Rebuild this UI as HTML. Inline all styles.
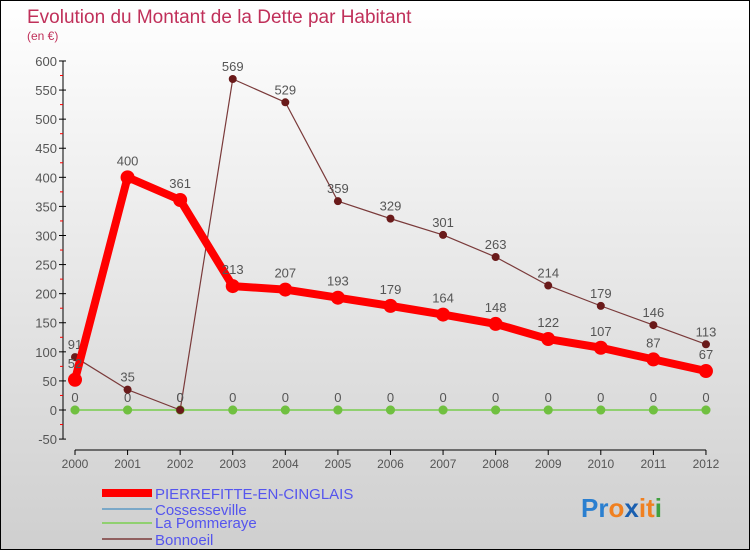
<!DOCTYPE html>
<html><head><meta charset="utf-8"><style>
body{margin:0}
#c{width:748px;height:548px;border:1px solid #000;background:linear-gradient(#fff,#cfcfcf);position:relative;overflow:hidden;font-family:"Liberation Sans",sans-serif}
</style></head><body>
<div id="c">
<svg id="s" width="748" height="548" xmlns="http://www.w3.org/2000/svg">
<text x="26" y="22" font-size="19" fill="#c0305a">Evolution du Montant de la Dette par Habitant</text>
<text x="26" y="39" font-size="12" fill="#c0305a">(en €)</text>
<g id="g"></g>
<g>
<rect x="101" y="488" width="50" height="8" fill="#f00"/>
<text x="154" y="498" font-size="15" fill="#5555ee">PIERREFITTE-EN-CINGLAIS</text>
<line x1="101" y1="508" x2="151" y2="508" stroke="#7aa8c8" stroke-width="2"/>
<text x="154" y="514" font-size="15" fill="#5555ee">Cossesseville</text>
<line x1="101" y1="522" x2="151" y2="522" stroke="#90d070" stroke-width="2"/>
<text x="154" y="527" font-size="15" fill="#5555ee">La Pommeraye</text>
<line x1="101" y1="538" x2="151" y2="538" stroke="#906060" stroke-width="2"/>
<text x="154" y="544" font-size="15" fill="#5555ee">Bonnoeil</text>
</g>
<text x="580" y="516" font-size="26" font-weight="bold"><tspan fill="#2a7fd0">Pr</tspan><tspan fill="#f08020">o</tspan><tspan fill="#1a5fb0">x</tspan><tspan fill="#f08020">it</tspan><tspan fill="#40a040">i</tspan></text>
</svg>
</div>
<script>
const years=[2000,2001,2002,2003,2004,2005,2006,2007,2008,2009,2010,2011,2012];
const pierrefitte=[52,400,361,213,207,193,179,164,148,122,107,87,67];
const cossesseville=[0,0,0,0,0,0,0,0,0,0,0,0,0];
const pommeraye=[0,0,0,0,0,0,0,0,0,0,0,0,0];
const bonnoeil=[91,35,0,569,529,359,329,301,263,214,179,146,113];
const yTicks=[-50,0,50,100,150,200,250,300,350,400,450,500,550,600];
const NS='http://www.w3.org/2000/svg';
const g=document.getElementById('g');
const X=i=>74+i*52.58;
const Y=v=>409-v*0.5817;
function el(t,a,txt){const e=document.createElementNS(NS,t);for(const k in a)e.setAttribute(k,a[k]);if(txt!==undefined)e.textContent=txt;g.appendChild(e);return e;}
let ax=el('line',{x1:62,y1:Y(600),x2:62,y2:Y(-50),stroke:'#000'});

yTicks.forEach(v=>{const t=el('line',{x1:58,y1:Y(v),x2:65,y2:Y(v),stroke:'#000'});

const m=el('line',{x1:59,y1:Y(v+25),x2:62,y2:Y(v+25),stroke:'#f00'});
if(v==600)m.remove();
const l=el('text',{x:56,y:Y(v)+5,'font-size':13,'text-anchor':'end',fill:'#555'},v);
});
let xa=el('line',{x1:X(0),y1:449,x2:X(12),y2:449,stroke:'#000'});

years.forEach((y,i)=>{el('line',{x1:X(i),y1:449,x2:X(i),y2:454,stroke:'#000'});
const l=el('text',{x:X(i),y:467,'font-size':12,'text-anchor':'middle',fill:'#555'},y);
});
function series(d,name,col,w,r,dot,labels,dy){
const p=el('polyline',{points:d.map((v,i)=>X(i)+','+Y(v)).join(' '),fill:'none',stroke:col,'stroke-width':w,'stroke-linejoin':'round'});

d.forEach((v,i)=>{const c=el('circle',{cx:X(i),cy:Y(v),r:r,fill:dot});

if(labels){const t=el('text',{x:X(i),y:Y(v)-dy,'font-size':13,'text-anchor':'middle',fill:'#555'},v);
}});}
series(cossesseville,'cossesseville','#7aa8c8',2,4.5,'#70c040',false);
series(pommeraye,'la-pommeraye','#90d070',2,4.5,'#70c040',true,8);
series(bonnoeil,'bonnoeil','#7a3a3a',1.2,4,'#6a1a1a',true,8);
series(pierrefitte,'pierrefitte','#f00',8,7,'#f00',true,12);
</script>
</body></html>
